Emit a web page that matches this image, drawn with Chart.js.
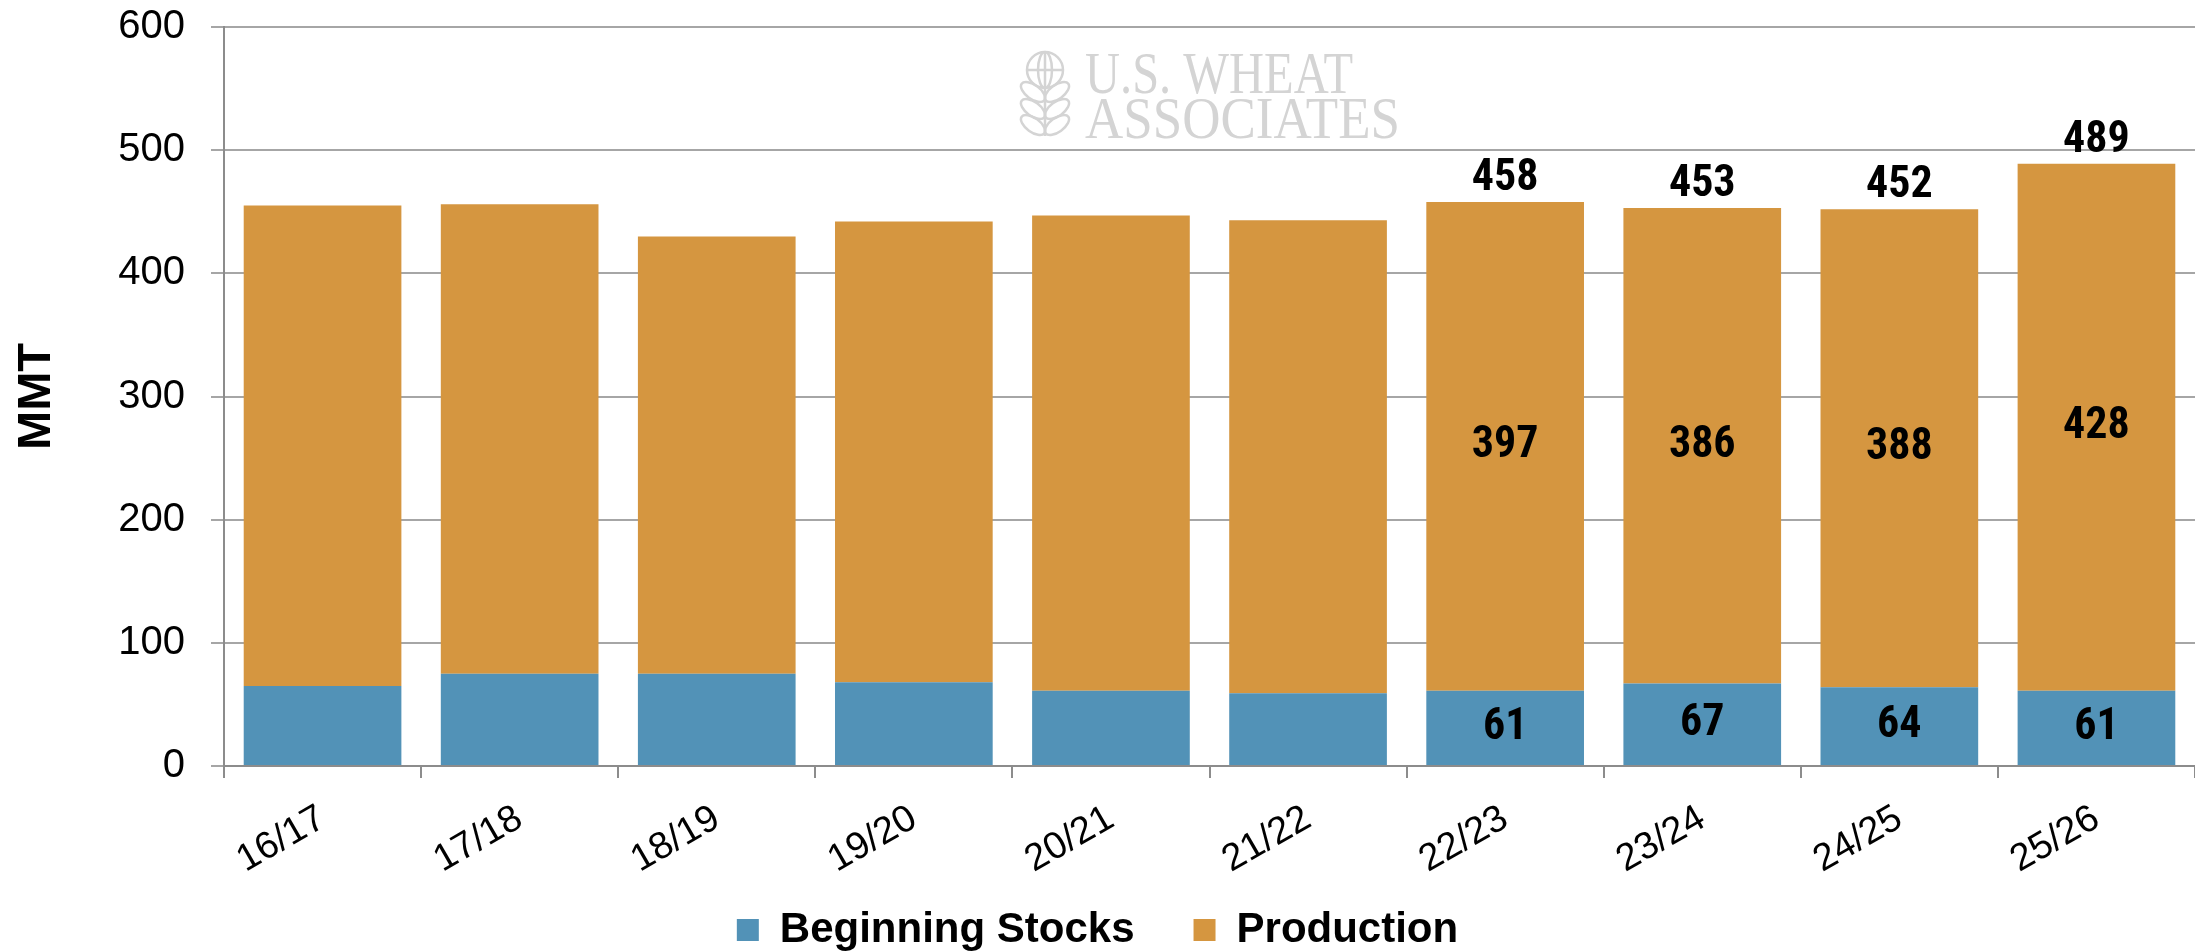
<!DOCTYPE html>
<html>
<head>
<meta charset="utf-8">
<script src="https://cdn.jsdelivr.net/npm/chart.js@4.4.1/dist/chart.umd.min.js"></script>
<style>
  html, body { margin: 0; padding: 0; background: #fff; }
</style>
</head>
<body>
<canvas id="wheatChart" width="2195" height="952"></canvas>
<script>
// marketing years and values (MMT)
const seasons = ['16/17', '17/18', '18/19', '19/20', '20/21', '21/22', '22/23', '23/24', '24/25', '25/26'];
const beginningStocks = [65, 75, 75, 68, 61, 59, 61, 67, 64, 61];
const production = [390, 381, 355, 374, 386, 384, 397, 386, 388, 428];
const labeledSeasons = ['22/23', '23/24', '24/25', '25/26'];
const yTicks = [0, 100, 200, 300, 400, 500, 600];

const stocksColor = '#5292b7';
const productionColor = '#d59640';
const gridColor = '#a6a6a6';
const axisColor = '#8c8c8c';
const legendPadding = 59;
const legendFontSize = 42;

// gray "U.S. Wheat Associates" mark behind the bars
const watermark = {
  id: 'watermark',
  beforeDatasetsDraw(chart) {
    const ctx = chart.ctx;
    ctx.save();
    ctx.fillStyle = '#d4d4d4';
    ctx.strokeStyle = '#d4d4d4';
    ctx.font = '60px "Liberation Serif", "DejaVu Serif", serif';
    ctx.textBaseline = 'alphabetic';
    ctx.fillText('U.S. WHEAT', 1085, 93, 268);
    ctx.fillText('ASSOCIATES', 1085, 138, 315);

    // globe
    ctx.lineWidth = 2.5;
    ctx.beginPath();
    ctx.arc(1045, 70, 18, 0, Math.PI * 2);
    ctx.stroke();
    ctx.beginPath();
    ctx.ellipse(1045, 70, 7, 18, 0, 0, Math.PI * 2);
    ctx.stroke();
    ctx.beginPath();
    ctx.moveTo(1027, 70); ctx.lineTo(1063, 70);
    ctx.moveTo(1045, 52); ctx.lineTo(1045, 136);
    ctx.stroke();
    // wheat leaves
    [96, 113, 129].forEach(y => {
      ctx.beginPath();
      ctx.ellipse(1033, y - 4, 14, 7, Math.PI / 5, 0, Math.PI * 2);
      ctx.stroke();
      ctx.beginPath();
      ctx.ellipse(1057, y - 4, 14, 7, -Math.PI / 5, 0, Math.PI * 2);
      ctx.stroke();
    });
    ctx.restore();
  }
};

// value labels on the last four bars
const valueLabels = {
  id: 'valueLabels',
  afterDatasetsDraw(chart) {
    const ctx = chart.ctx;
    const stockBars = chart.getDatasetMeta(0).data;
    const prodBars = chart.getDatasetMeta(1).data;
    ctx.save();
    ctx.font = 'bold 44px "Liberation Sans Narrow", "Roboto Condensed", "Liberation Sans", sans-serif';
    ctx.fillStyle = '#000';
    ctx.textAlign = 'center';
    labeledSeasons.forEach(season => {
      const i = seasons.indexOf(season);
      const s = stockBars[i];
      const p = prodBars[i];
      ctx.textBaseline = 'middle';
      ctx.fillText(beginningStocks[i], s.x, (s.y + s.base) / 2);
      ctx.fillText(production[i], p.x, (p.y + p.base) / 2);
      ctx.textBaseline = 'alphabetic';
      ctx.fillText(beginningStocks[i] + production[i], p.x, p.y - 12);
    });
    ctx.restore();
  }
};

// pull the legend row up so it sits near the bottom edge, as in the original
const legendShift = {
  id: 'legendShift',
  afterLayout(chart) {
    const lg = chart.legend;
    if (!lg) return;
    const rowCenter = lg.top + legendPadding + legendFontSize / 2;
    const shift = rowCenter - (chart.height - 22);
    lg.top -= shift;
    lg.bottom -= shift;
  }
};

const ctx = document.getElementById('wheatChart').getContext('2d');
new Chart(ctx, {
  type: 'bar',
  data: {
    labels: seasons,
    datasets: [
      { label: 'Beginning Stocks', data: beginningStocks, backgroundColor: stocksColor, borderWidth: 0 },
      { label: 'Production', data: production, backgroundColor: productionColor, borderWidth: 0 }
    ]
  },
  options: {
    responsive: false,
    animation: false,
    devicePixelRatio: 1,
    barPercentage: 0.8,
    categoryPercentage: 1.0,
    layout: { padding: { top: 27, right: 0, left: 0, bottom: -35 } },
    plugins: {
      tooltip: { enabled: false },
      legend: {
        position: 'bottom',
        labels: {
          boxWidth: 22,
          boxHeight: 22,
          padding: legendPadding,
          color: '#000',
          font: { family: '"Liberation Sans", Arial, sans-serif', size: legendFontSize, weight: 'bold' }
        }
      }
    },
    scales: {
      x: {
        stacked: true,
        afterFit: scale => { scale.height = 110; },
        grid: { drawOnChartArea: false, drawTicks: true, tickLength: 12, color: axisColor, lineWidth: 2, offset: true },
        border: { color: axisColor, width: 2 },
        ticks: {
          color: '#000',
          minRotation: 30,
          maxRotation: 30,
          padding: 18,
          font: { family: '"Liberation Sans", Arial, sans-serif', size: 38 }
        }
      },
      y: {
        stacked: true,
        min: 0,
        max: 600,
        afterFit: scale => {
          scale.width = 224;
          scale.paddingTop = 0;
          scale.paddingBottom = 0;
        },
        afterBuildTicks: scale => { scale.ticks = yTicks.map(v => ({ value: v })); },
        grid: { color: gridColor, lineWidth: 2, tickLength: 13 },
        border: { color: axisColor, width: 2 },
        title: {
          display: true,
          text: 'MMT',
          color: '#000',
          padding: { top: 9, bottom: 0 },
          font: { family: '"Liberation Sans", Arial, sans-serif', size: 47, weight: 'bold' }
        },
        ticks: {
          color: '#000',
          padding: 26,
          font: { family: '"Liberation Sans", Arial, sans-serif', size: 40 }
        }
      }
    }
  },
  plugins: [watermark, valueLabels, legendShift]
});
</script>
</body>
</html>
